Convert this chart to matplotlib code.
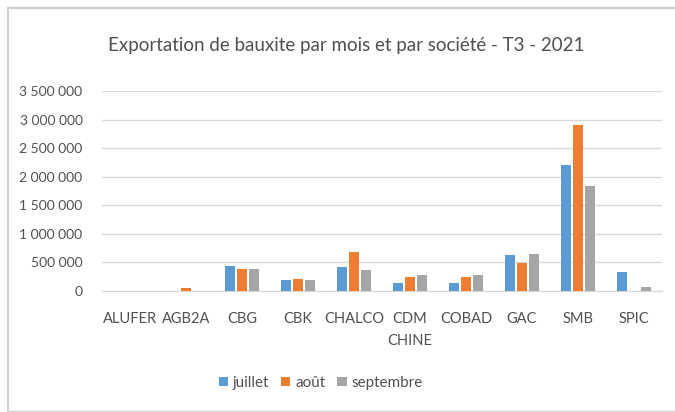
import matplotlib.pyplot as plt
import numpy as np
from matplotlib.patches import Rectangle

plt.rcParams['font.family'] = ['Lato', 'DejaVu Sans']

societes = ["ALUFER", "AGB2A", "CBG", "CBK", "CHALCO", "CDM\nCHINE", "COBAD", "GAC", "SMB", "SPIC"]
juillet = [0, 0, 437000, 192000, 414000, 145000, 145000, 624000, 2197000, 332000]
aout = [0, 58000, 380000, 215000, 687000, 239000, 239000, 490000, 2902000, 0]
septembre = [0, 0, 380000, 192000, 373000, 280000, 280000, 647000, 1836000, 75000]
yticks = [0, 500000, 1000000, 1500000, 2000000, 2500000, 3000000, 3500000]

txt = "#505050"
fig = plt.figure(figsize=(6.75, 4.12), dpi=100)
fig.patches.append(Rectangle((8 / 675, 0), 1, 1 - 8 / 412, transform=fig.transFigure,
                             fill=False, edgecolor="#D0D0D0", linewidth=1.5))
ax = fig.add_axes([102 / 675, 1 - 291 / 412, 560 / 675, 200 / 412])

x = np.arange(len(societes))
w = 0.18
ax.bar(x - 0.22, juillet, w, color="#5B9BD5", label="juillet", zorder=3)
ax.bar(x, aout, w, color="#ED7D31", label="août", zorder=3)
ax.bar(x + 0.22, septembre, w, color="#A5A5A5", label="septembre", zorder=3)

ax.set_xlim(-0.5, len(societes) - 0.5)
ax.set_ylim(0, 3500000)
ax.set_yticks(yticks)
ax.set_yticklabels([f"{v:,}".replace(",", " ") for v in yticks])
ax.set_xticks(x)
ax.set_xticklabels(societes, linespacing=1.75)
ax.grid(axis="y", color="#D9D9D9", linewidth=1, zorder=0)
for s in ["top", "right", "left"]:
    ax.spines[s].set_visible(False)
ax.spines["bottom"].set_color("#D9D9D9")
ax.tick_params(axis="both", length=0, colors=txt, labelsize=10.5)
ax.tick_params(axis="y", labelsize=10, pad=14)
ax.tick_params(axis="x", pad=15)

fig.text(0.513, 1 - 45 / 412, "Exportation de bauxite par mois et par société - T3 - 2021",
         ha="center", va="center", fontsize=13.5, color=txt)
leg = fig.legend(loc="center", bbox_to_anchor=(0.475, 1 - 383 / 412), ncol=3, frameon=False,
                 fontsize=11, handlelength=0.6, handleheight=0.6, handletextpad=0.3,
                 columnspacing=0.8, labelcolor=txt)

fig.savefig("out.png", dpi=100)
